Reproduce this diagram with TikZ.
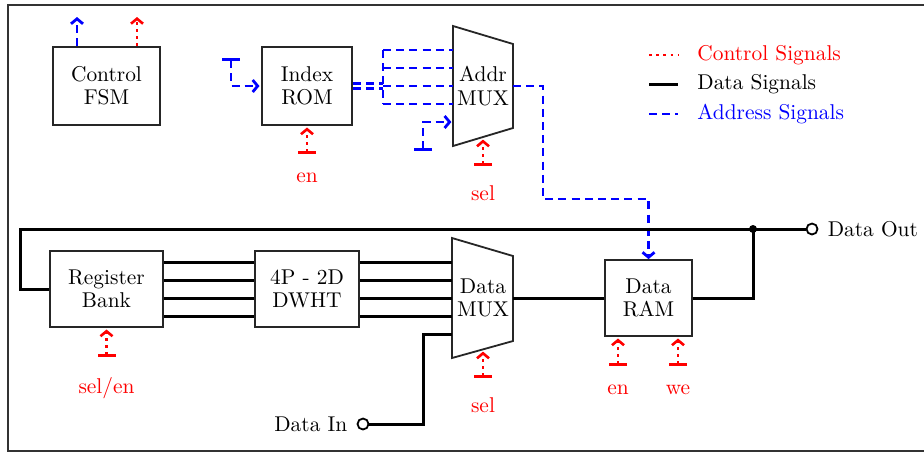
\documentclass[tikz,border=0pt]{standalone}
\usetikzlibrary{arrows.meta}
\begin{document}
\begin{tikzpicture}[x=0.5pt,y=-0.5pt,
  font=\fontsize{10.7}{11.6}\selectfont,
  blk/.style={draw=black!85, line width=0.9pt, inner sep=0pt, align=center},
  txt/.style={align=center, inner sep=0pt},
  datasig/.style={line width=1.5pt, black},
  ctrlsig/.style={red, line width=1.3pt, dash pattern=on 1.4pt off 2.2pt},
  addrsig/.style={blue, line width=1.4pt, dash pattern=on 4pt off 2.6pt},
  tipb/.style={-{Straight Barb[length=2.5pt,width=6pt]}},
  barin/.style={{Bar[width=9pt]}-{Straight Barb[length=2.5pt,width=6pt]}, shorten >=0.8pt},
  lbl/.style={anchor=north, inner sep=0pt, red},
  term/.style={circle, draw, fill=white, line width=0.9pt, minimum size=5.5pt, inner sep=0pt},
  jdotst/.style={circle, fill, minimum size=4pt, inner sep=0pt}
]
\useasboundingbox (0,0) rectangle (924,452);
\draw[line width=1pt, black!80] (8,5) rectangle (940,451);

% blocks
\node[blk, minimum width=53.5pt, minimum height=39pt] (fsm) at (106.5,86) {Control\\FSM};
\node[blk, minimum width=45pt, minimum height=39pt] (rom) at (307,86) {Index\\ROM};
\node[blk, minimum width=56.5pt, minimum height=38pt] (reg) at (106.5,289) {Register\\Bank};
\node[blk, minimum width=52pt, minimum height=38pt] (dwht) at (307,289) {4P - 2D\\DWHT};
\node[blk, minimum width=43.5pt, minimum height=38pt] (ram) at (648.5,298) {Data\\RAM};

% multiplexers
\draw[line width=0.9pt, black!85] (453,26) -- (513,44) -- (513,128) -- (453,146) -- cycle;
\node[txt] (amux) at (483,86) {Addr\\MUX};
\draw[line width=0.9pt, black!85] (452,238) -- (513,256) -- (513,341) -- (452,358) -- cycle;
\node[txt] (dmux) at (483,298) {Data\\MUX};

\coordinate (amuxL1) at (453,50);
\coordinate (amuxL2) at (453,68);
\coordinate (amuxL3) at (453,86);
\coordinate (amuxL4) at (453,104);
\coordinate (amuxL5) at (453,122);
\coordinate (amuxR) at (513,86);
\coordinate (amuxB) at (483,138);
\coordinate (dmuxL1) at (452,262);
\coordinate (dmuxL2) at (452,280);
\coordinate (dmuxL3) at (452,298);
\coordinate (dmuxL4) at (452,316);
\coordinate (dmuxL5) at (452,334);
\coordinate (dmuxR) at (513,298);
\coordinate (dmuxB) at (483,350);

% address signals
\coordinate (fsmB) at (77,17);
\draw[addrsig, tipb] (fsm.north -| fsmB) -- (fsmB);
\coordinate (romA) at (231,58);
\draw[addrsig, barin] (romA) |- (rom.west);
\coordinate (brT) at (383,50);
\coordinate (brM) at (383,68);
\coordinate (br) at (383,86);
\coordinate (brB) at (383,104);
\draw[addrsig] ([yshift=1.2pt]rom.east) -- ([yshift=1.2pt]br);
\draw[addrsig] ([yshift=-1.2pt]rom.east) -- ([yshift=-1.2pt]br);
\draw[addrsig] (brT) -- (brB);
\draw[addrsig] (brT) -- (amuxL1);
\draw[addrsig] (brM) -- (amuxL2);
\draw[addrsig] (br) -- (amuxL3);
\draw[addrsig] (brB) -- (amuxL4);
\coordinate (amA) at (423,151);
\draw[addrsig, barin] (amA) |- (amuxL5);
\coordinate (ac1) at (543,199);
\draw[addrsig, tipb] (amuxR) -| (ac1) -| (ram.north);

% control signals
\coordinate (fsmR) at (137,17);
\draw[ctrlsig, tipb] (fsm.north -| fsmR) -- (fsmR);
\coordinate (romEn) at (307,154);
\draw[ctrlsig, barin] (romEn) -- (rom.south);
\node[lbl] (romEnL) at ([yshift=-9.3pt]romEn) {en};
\coordinate (amSel) at (483,166);
\draw[ctrlsig, barin] (amSel) -- (amuxB);
\node[lbl] (amSelL) at ([yshift=-9.8pt]amSel) {sel};
\coordinate (regSel) at (106.5,357);
\draw[ctrlsig, barin] (regSel) -- (reg.south);
\node[lbl] (regSelL) at ([yshift=-9.8pt]regSel) {sel/en};
\coordinate (dmSel) at (483,378);
\draw[ctrlsig, barin] (dmSel) -- (dmuxB);
\node[lbl] (dmSelL) at ([yshift=-9.8pt]dmSel) {sel};
\coordinate (ramEn) at (618,366);
\draw[ctrlsig, barin] (ramEn) -- (ramEn |- ram.south);
\node[lbl] (ramEnL) at ([yshift=-9.3pt]ramEn) {en};
\coordinate (ramWe) at (678,366);
\draw[ctrlsig, barin] (ramWe) -- (ramWe |- ram.south);
\node[lbl] (ramWeL) at ([yshift=-9.3pt]ramWe) {we};

% data signals
\foreach \i/\yy in {1/262,2/280,3/298,4/316}{
  \draw[datasig] (reg.east |- 0,\yy) -- (dwht.west |- 0,\yy);
  \draw[datasig] (dwht.east |- 0,\yy) -- (dmuxL\i);
}
\draw[datasig] (dmuxR) -- (ram.west);
\coordinate (jn) at (753,229);
\draw[datasig] (ram.east) -| (jn);
\node[term] (dout) at (812,229) {};
\draw[datasig] (jn) -- (dout.west);
\coordinate (fbk) at (20,229);
\draw[datasig] (jn) -- (fbk) |- (reg.west);
\node[jdotst] (jdot) at (jn) {};
\node[anchor=west, inner sep=4.5pt] (doutL) at (dout.east) {Data Out};
\node[term] (din) at (363,424) {};
\coordinate (dinc) at (423,424);
\draw[datasig] (din.east) -- (dinc) |- (dmuxL5);
\node[anchor=east, inner sep=4.5pt] (dinL) at (din.west) {Data In};

% legend
\coordinate (lg1a) at (649,55);
\coordinate (lg1b) at (678,55);
\draw[ctrlsig] (lg1a) -- (lg1b);
\node[anchor=west, inner sep=0pt, red] (lg1) at (697,55) {Control Signals};
\coordinate (lg2a) at (649,84);
\coordinate (lg2b) at (678,84);
\draw[datasig] (lg2a) -- (lg2b);
\node[anchor=west, inner sep=0pt] (lg2) at (697,84) {Data Signals};
\coordinate (lg3a) at (649,114);
\coordinate (lg3b) at (678,114);
\draw[addrsig] (lg3a) -- (lg3b);
\node[anchor=west, inner sep=0pt, blue] (lg3) at (697,114) {Address Signals};
\end{tikzpicture}
\end{document}
